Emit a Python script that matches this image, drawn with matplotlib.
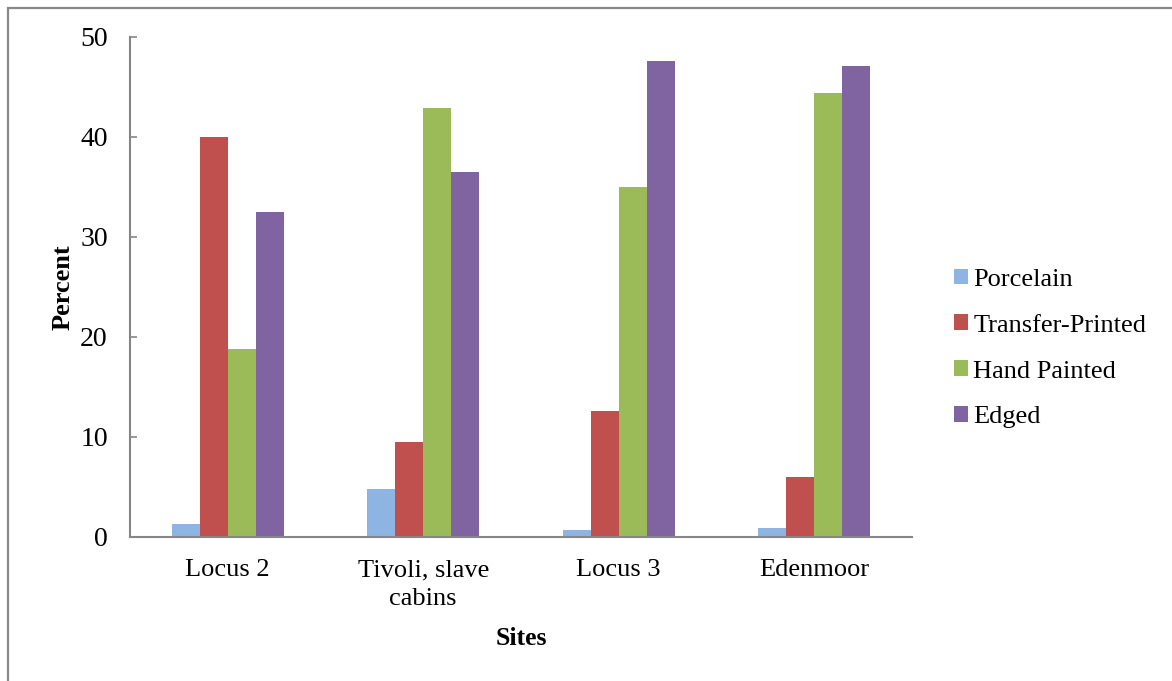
import numpy as np
import matplotlib.pyplot as plt
from matplotlib.patches import Rectangle

sites = ["Locus 2", "Tivoli, slave\ncabins", "Locus 3", "Edenmoor"]
series = ["Porcelain", "Transfer-Printed", "Hand Painted", "Edged"]
porcelain = [1.3, 4.8, 0.7, 0.9]
transfer = [40.0, 9.5, 12.6, 6.0]
hand_painted = [18.8, 42.9, 35.0, 44.4]
edged = [32.5, 36.5, 47.6, 47.1]
colors = ["#8DB4E2", "#C0504D", "#9BBB59", "#8064A2"]

plt.rcParams["font.family"] = ["Liberation Serif", "DejaVu Serif"]

W, H = 1172, 681
fig = plt.figure(figsize=(W / 100, H / 100), dpi=100)
ax = fig.add_axes([130 / W, 1 - 537 / H, (912 - 130) / W, (537 - 37) / H])

x = np.arange(len(sites))
bw = 0.143
values = [porcelain, transfer, hand_painted, edged]
for i, (name, vals) in enumerate(zip(series, values)):
    ax.bar(x + (i - 1.5) * bw, vals, width=bw, color=colors[i], label=name)

ax.set_xlim(-0.5, len(sites) - 0.5)
ax.set_ylim(0, 50)
ax.set_yticks([0, 10, 20, 30, 40, 50])
ax.set_xticks(x)
ax.set_xticklabels(sites, fontsize=19, linespacing=1.4)
ax.tick_params(axis="y", direction="in", length=5, width=1.2, color="#868686",
               labelsize=20, pad=16)
ax.tick_params(axis="x", length=0, pad=16)

for s in ["top", "right"]:
    ax.spines[s].set_visible(False)
for s in ["left", "bottom"]:
    ax.spines[s].set_color("#868686")
    ax.spines[s].set_linewidth(1.5)

ax.set_ylabel("Percent", fontsize=19, fontweight="bold", labelpad=4)
ax.set_xlabel("Sites", fontsize=18.5, fontweight="bold", labelpad=12)

fig.legend(loc="center left", bbox_to_anchor=(954 / W, 1 - 348.5 / H),
           frameon=False, fontsize=19, handlelength=0.53, handleheight=0.53,
           handletextpad=0.2, labelspacing=0.9, borderpad=0, borderaxespad=0)

# outer chart border (only top and left edges visible)
fig.patches.append(Rectangle((8 / W, -0.1), 1.2, 1 - 8 / H + 0.1,
                             transform=fig.transFigure, fill=False,
                             edgecolor="#888888", linewidth=1.6))

plt.savefig("out.png", dpi=100)
